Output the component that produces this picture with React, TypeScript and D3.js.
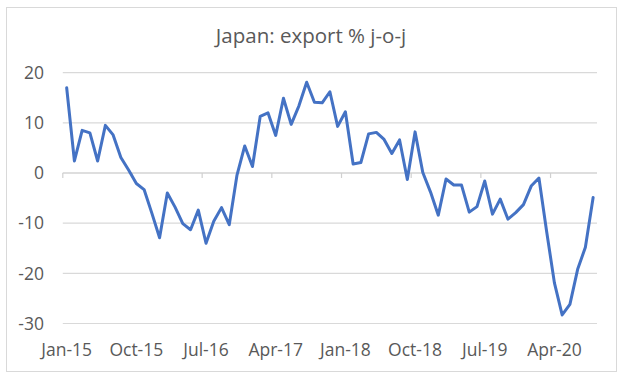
import React from "react";
import * as d3 from "d3";

const title = "Japan: export % j-o-j";
const months: string[] = (() => {
  const names = ["Jan","Feb","Mar","Apr","May","Jun","Jul","Aug","Sep","Oct","Nov","Dec"];
  const out: string[] = [];
  for (let y = 15; y <= 20; y++) for (const n of names) out.push(`${n}-${y}`);
  return out.slice(0, 69);
})();
const values: number[] = [
  17.0, 2.4, 8.5, 8.0, 2.4, 9.5, 7.6, 3.1, 0.6, -2.1, -3.3, -8.0,
  -12.9, -4.0, -6.8, -10.1, -11.3, -7.4, -14.0, -9.6, -6.9, -10.3, -0.4, 5.4,
  1.3, 11.3, 12.0, 7.5, 14.9, 9.7, 13.4, 18.1, 14.1, 14.0, 16.2, 9.3,
  12.2, 1.8, 2.1, 7.8, 8.1, 6.7, 3.9, 6.6, -1.3, 8.2, 0.1, -3.8,
  -8.4, -1.2, -2.4, -2.4, -7.8, -6.7, -1.6, -8.2, -5.2, -9.2, -7.9, -6.3,
  -2.6, -1.0, -11.7, -21.9, -28.3, -26.2, -19.2, -14.8, -4.9,
];
const yTicks: number[] = [20, 10, 0, -10, -20, -30];
const xLabels: string[] = ["Jan-15", "Oct-15", "Jul-16", "Apr-17", "Jan-18", "Oct-18", "Jul-19", "Apr-20"];

const W = 625, H = 377;
const plotLeft = 62.8, plotRight = 597, plotTop = 72.7, plotBottom = 323.5;
const FONT = "'Open Sans', 'Noto Sans', sans-serif";
const TEXT = "#595959";

export default function App() {
  const x = d3.scaleBand<string>().domain(months).range([plotLeft, plotRight]).paddingInner(0).paddingOuter(0);
  const y = d3.scaleLinear().domain([-30, 20]).range([plotBottom, plotTop]);
  const cx = (m: string) => (x(m) as number) + x.bandwidth() / 2;
  const line = d3.line<number>().x((_, i) => cx(months[i])).y((d) => y(d));
  const tickIdx = d3.range(0, months.length + 1, 9);
  const tickX = (i: number) => i < months.length ? (x(months[i]) as number) : plotRight;

  return (
    <svg width={W} height={H} style={{ position: "absolute", left: 0, top: 0, display: "block" }}>
      <rect x={0} y={0} width={W} height={H} fill="#ffffff" />
      <rect x={6.5} y={7.5} width={610} height={364} fill="#ffffff" stroke="#d9d9d9" strokeWidth={1} />
      <text x={311} y={43} textAnchor="middle" fontFamily={FONT} fontSize={20.5} fill={TEXT}>{title}</text>
      {yTicks.map((t) => (
        <g key={t}>
          <line x1={plotLeft} x2={plotRight} y1={y(t)} y2={y(t)} stroke="#d9d9d9" strokeWidth={1.2} />
          <text x={44} y={y(t)} dy="0.36em" textAnchor="end" fontFamily={FONT} fontSize={17.5} fill={TEXT}>{t}</text>
        </g>
      ))}
      <line x1={plotLeft} x2={plotRight} y1={y(0)} y2={y(0)} stroke="#d0d0d0" strokeWidth={1.2} />
      {tickIdx.map((i) => (
        <line key={i} x1={tickX(i)} x2={tickX(i)} y1={y(0)} y2={y(0) + 5} stroke="#d0d0d0" strokeWidth={1.2} />
      ))}
      {xLabels.map((lab) => (
        <text key={lab} x={cx(lab)} y={356} textAnchor="middle" fontFamily={FONT} fontSize={17.5} fill={TEXT}>{lab}</text>
      ))}
      <path d={line(values) || ""} fill="none" stroke="#4472C4" strokeWidth={3} strokeLinejoin="round" strokeLinecap="round" />
    </svg>
  );
}
